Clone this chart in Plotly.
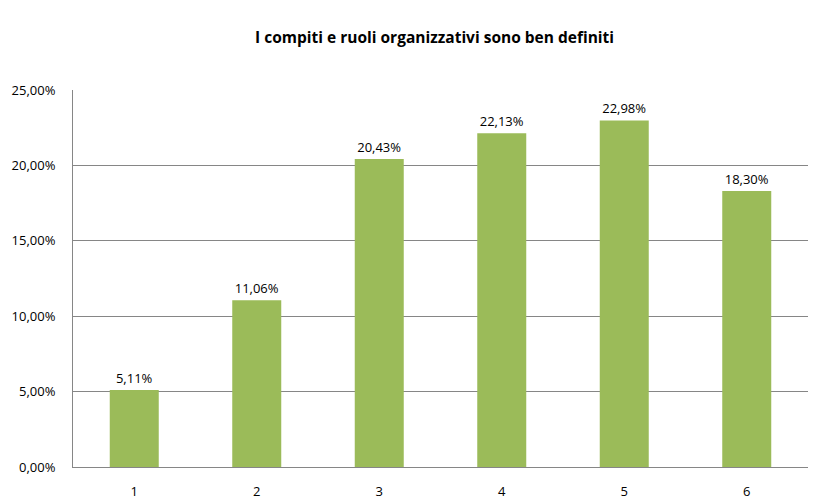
import plotly.graph_objects as go

categories = ["1", "2", "3", "4", "5", "6"]
values = [5.11, 11.06, 20.43, 22.13, 22.98, 18.30]
labels = ["5,11%", "11,06%", "20,43%", "22,13%", "22,98%", "18,30%"]
tick_vals = [0, 5, 10, 15, 20, 25]
tick_text = ["0,00%", "5,00%", "10,00%", "15,00%", "20,00%", "25,00%"]
title = "I compiti e ruoli organizzativi sono ben definiti"

font_family = "Open Sans, Liberation Sans, sans-serif"

fig = go.Figure(go.Bar(
    x=categories, y=values, text=labels, textposition="outside",
    textfont=dict(size=13, color="#000000", family=font_family),
    marker=dict(color="#9BBB59", line=dict(width=0)),
    width=0.4, cliponaxis=False,
))

fig.update_layout(
    width=823, height=500,
    margin=dict(l=73, r=15, t=90, b=33),
    paper_bgcolor="white", plot_bgcolor="white",
    showlegend=False,
    title=dict(text="<b>" + title + "</b>", x=0.528, xanchor="center", y=0.925, yanchor="middle",
               font=dict(size=15.5, color="#000000", family=font_family)),
    font=dict(family=font_family, size=13, color="#000000"),
)
fig.update_xaxes(showline=True, linecolor="#868686", linewidth=1, ticks="",
                 tickfont=dict(size=13), showgrid=False, ticklabelstandoff=12,
                 automargin=False)
fig.update_yaxes(range=[0, 25], tickvals=tick_vals, ticktext=tick_text,
                 showgrid=True, gridcolor="#868686", gridwidth=1,
                 showline=True, linecolor="#868686", linewidth=1, ticks="",
                 tickfont=dict(size=13), zeroline=False, ticklabelstandoff=14,
                 automargin=False)

fig.write_html("out.html")
